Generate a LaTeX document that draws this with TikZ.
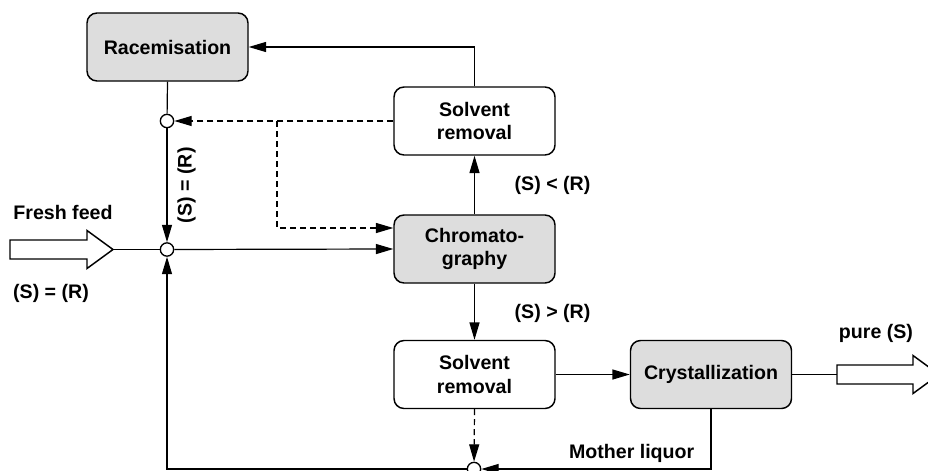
\documentclass[tikz,border=0pt]{standalone}
\usepackage{fontspec}
\setmainfont{Liberation Sans}
\usetikzlibrary{arrows.meta}
\definecolor{procgray}{RGB}{221,221,221}
\tikzset{
  unit/.style={draw, line width=1.1pt, rounded corners=7.5pt, minimum width=120.75pt,
    minimum height=51pt, align=center, inner sep=0pt},
  grayunit/.style={unit, fill=procgray},
  junction/.style={circle, draw, line width=1pt, fill=white, minimum size=10pt, inner sep=0pt},
  flow/.style={line width=0.9pt, -{Triangle[length=13pt,width=7.5pt]}},
  dashflow/.style={flow, dash pattern=on 4.5pt off 3pt},
  hollow/.style={draw, line width=1.1pt, fill=white, line join=miter},
}

\begin{document}
\begin{tikzpicture}[x=0.75pt, y=-0.75pt, font=\fontsize{14.7}{17.5}\selectfont\bfseries]
  \useasboundingbox (0,0) rectangle (928,471);
  % process units
  \node[grayunit] (rac) at (167.5,47) {Racemisation};
  \node[unit] (sr1) at (474.5,121) {Solvent\\removal};
  \node[grayunit] (chrom) at (474.5,249) {Chromato-\\graphy};
  \node[unit] (sr2) at (474.5,374.5) {Solvent\\removal};
  \node[grayunit] (cryst) at (711,374.5) {Crystallization};
  % mixing points
  \node[junction] (c1) at (167,121) {};
  \node[junction] (cj) at (167,249.5) {};
  \node[junction] (c2) at (474,469) {};
  \coordinate (dj) at (277,121);
  % feed and product
  \draw[hollow] (10,240) -- (87,240) -- (87,230.5) -- (113,249.5) -- (87,268.5) -- (87,259) -- (10,259) -- cycle;
  \coordinate (feed) at (113,249.5);
  \draw[hollow] (837,365) -- (913,365) -- (913,355.5) -- (939,374.5) -- (913,393.5) -- (913,384) -- (837,384) -- cycle;
  \coordinate (prod) at (837,374.5);
  % streams
  \draw[line width=0.9pt] (rac.south) -- (c1);
  \draw[flow] (c1) -- (cj) node[midway, right=4pt, rotate=90, anchor=north] {(S) = (R)};
  \draw[line width=0.75pt] (feed) -- (cj);
  \draw[flow] (cj) -- (chrom.west);
  \draw[flow] (chrom.north) -- (sr1.south);
  \draw[flow] (sr1.north) |- (rac.east);
  \draw[dashflow] (sr1.west) -- (c1);
  \draw[dashflow] (dj) |- ([yshift=15.75pt]chrom.west);
  \draw[flow] (chrom.south) -- (sr2.north);
  \draw[flow] (sr2.east) -- (cryst.west);
  \draw[line width=0.9pt] (cryst.east) -- (prod);
  \draw[dashflow] (sr2.south) -- (c2);
  \draw[flow] (cryst.south) |- (c2);
  \draw[flow] (c2) -| (cj);
  % labels
  \node at (63,212) {Fresh feed};
  \node at (51,293) {(S) = (R)};
  \node[anchor=west] at (510,185) {(S) < (R)};
  \node[anchor=west] at (510,313) {(S) > (R)};
  \node at (876,333) {pure (S)};
  \node[anchor=east] at (699,453) {Mother liquor};
\end{tikzpicture}
\end{document}
